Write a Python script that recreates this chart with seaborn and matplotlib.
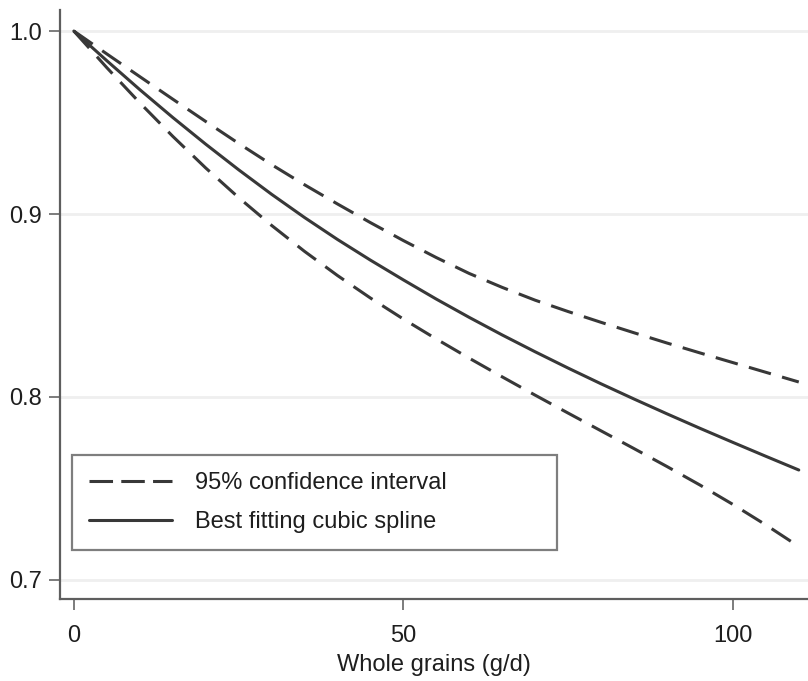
import matplotlib
matplotlib.use("Agg")
import matplotlib.pyplot as plt
import seaborn as sns
import pandas as pd

# Dose-response of whole grain intake (g/d) with 95% confidence band
grains = [0, 5, 10, 15, 20, 25, 30, 35, 40, 45, 50, 55, 60, 65, 70, 75, 80,
          85, 90, 95, 100, 105, 110]
spline = [1.0000, 0.9838, 0.9680, 0.9528, 0.9382, 0.9242, 0.9108, 0.8981, 0.8861,
          0.8748, 0.8640, 0.8535, 0.8435, 0.8339, 0.8247, 0.8158, 0.8072, 0.7989,
          0.7908, 0.7829, 0.7752, 0.7676, 0.7601]
ci_upper = [1.0000, 0.9875, 0.9751, 0.9628, 0.9506, 0.9386, 0.9270, 0.9160, 0.9055,
            0.8953, 0.8855, 0.8762, 0.8675, 0.8599, 0.8529, 0.8467, 0.8408, 0.8351,
            0.8295, 0.8241, 0.8188, 0.8135, 0.8082]
ci_lower = [1.0000, 0.9800, 0.9608, 0.9425, 0.9252, 0.9090, 0.8938, 0.8796, 0.8664,
            0.8541, 0.8426, 0.8317, 0.8212, 0.8110, 0.8010, 0.7912, 0.7815, 0.7718,
            0.7620, 0.7519, 0.7413, 0.7301, 0.7183]
x_ticks = [0, 50, 100]
y_ticks = [0.7, 0.8, 0.9, 1.0]
x_label = "Whole grains (g/d)"
legend_labels = ["95% confidence interval", "Best fitting cubic spline"]

df = pd.DataFrame({"grains": grains, "spline": spline,
                   "upper": ci_upper, "lower": ci_lower})

sns.set_theme(style="white")
plt.rcParams["font.family"] = ["Liberation Sans Narrow", "Liberation Sans", "DejaVu Sans"]

fig = plt.figure(figsize=(8.08, 6.81), dpi=100)
ax = fig.add_axes([60 / 808, 1 - 599 / 681, 748 / 808, 589 / 681])

line_color = "#383838"
dash = (7.5, 3.8)
lw = 2.2

sns.lineplot(data=df, x="grains", y="lower", ax=ax, color=line_color, lw=lw,
             label=legend_labels[0])
sns.lineplot(data=df, x="grains", y="spline", ax=ax, color=line_color, lw=lw,
             label=legend_labels[1])
sns.lineplot(data=df, x="grains", y="upper", ax=ax, color=line_color, lw=lw)
ax.lines[0].set_dashes(dash)
ax.lines[2].set_dashes(dash)
for ln in ax.lines:
    ln.set_solid_joinstyle("round")
    ln.set_dash_joinstyle("round")

ax.set_xlim(-2.1, 111.4)
ax.set_ylim(0.6896, 1.0115)
ax.set_xticks(x_ticks)
ax.set_yticks(y_ticks)
ax.set_yticklabels([f"{v:.1f}" for v in y_ticks])
ax.set_xlabel(x_label, fontsize=17, color="#1e1e1e", labelpad=5)
ax.set_ylabel("")

ax.yaxis.grid(True, color="#efefef", lw=2)
ax.xaxis.grid(False)
ax.set_axisbelow(True)

for side in ["top", "right"]:
    ax.spines[side].set_visible(False)
for side in ["left", "bottom"]:
    ax.spines[side].set_color("#5e5e5e")
    ax.spines[side].set_linewidth(1.6)

ax.tick_params(axis="both", which="major", direction="out", length=8, width=1.2,
               color="#666666", labelsize=17, labelcolor="#1e1e1e", pad=5,
               bottom=True, left=True)
ax.tick_params(axis="x", pad=11)

leg = ax.legend(loc="lower left", bbox_to_anchor=(0.016, 0.083, 0.648, 0.165),
                mode="expand", fontsize=17, frameon=True, fancybox=False,
                handlelength=3.5, handletextpad=1.0, labelspacing=0.72,
                borderpad=0.72, borderaxespad=0)
frame = leg.get_frame()
frame.set_edgecolor("#5e5e5e")
frame.set_linewidth(1.6)
for t in leg.get_texts():
    t.set_color("#1e1e1e")
leg.get_lines()[0].set_dashes((7.7, 2.7))

fig.savefig("out.png", dpi=100, facecolor="white")
